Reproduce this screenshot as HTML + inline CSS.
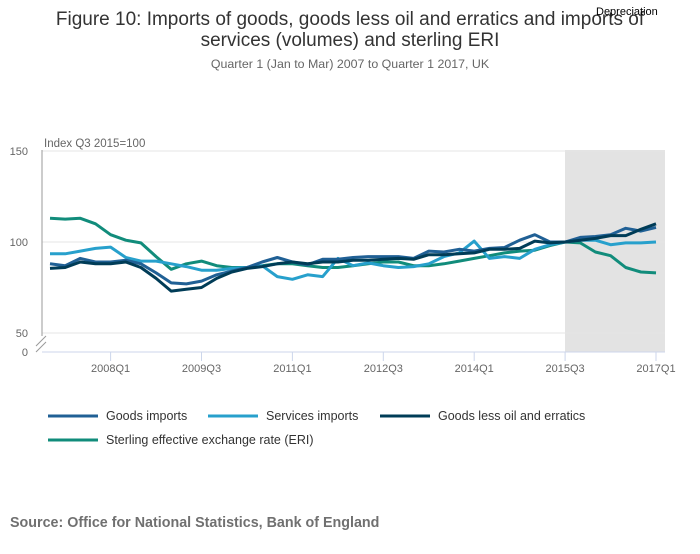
<!DOCTYPE html>
<html><head><meta charset="utf-8"><style>
body{margin:0;background:#fff;font-family:"Liberation Sans",sans-serif;}
svg text{font-family:"Liberation Sans",sans-serif;}
</style></head><body>
<svg width="700" height="549" viewBox="0 0 700 549">
<text x="350" y="25" text-anchor="middle" font-size="19" fill="#333">Figure 10: Imports of goods, goods less oil and erratics and imports of</text>
<text x="350" y="46" text-anchor="middle" font-size="19" fill="#333">services (volumes) and sterling ERI</text>
<text x="350" y="68" text-anchor="middle" font-size="12.4" fill="#666">Quarter 1 (Jan to Mar) 2007 to Quarter 1 2017, UK</text>
<text x="596" y="15" font-size="11" fill="#000">Depreciation</text>
<text x="44" y="147" font-size="11.5" fill="#666">Index Q3 2015=100</text>
<rect x="565" y="150" width="100" height="202" fill="#e3e3e3"/>
<g id="grid"></g>
<line x1="42" y1="150" x2="42" y2="336" stroke="#999"/>
<line x1="36" y1="346" x2="46" y2="336" stroke="#999"/>
<line x1="36" y1="352" x2="46" y2="342" stroke="#999"/>
<line x1="42" y1="352" x2="665" y2="352" stroke="#ccd6eb"/>
<text x="28" y="356" text-anchor="end" font-size="11" fill="#666">0</text>
<g id="xticks"></g>
<g id="series"></g>
<g id="legend"></g>
<text x="10" y="527" font-size="14.3" font-weight="bold" fill="#707070">Source: Office for National Statistics, Bank of England</text>
</svg>
<script>
const yTicks=[50,100,150];
const xTickIdx=[4,10,16,22,28,34,40];
const xTickLabels=["2008Q1","2009Q3","2011Q1","2012Q3","2014Q1","2015Q3","2017Q1"];
const goods=[88,87,91,89,89,90,88,83,77.5,77,78.5,82,84,86,89,91.5,89,87.5,90.5,90.5,91.5,92,92,92,91,95,94.5,96,95,96.5,97,101,104,100,100,102.5,103,104,107.5,106,108];
const services=[93.5,93.5,95,96.5,97.2,91.5,89.5,89.5,88,86.5,84.5,84.5,85.5,86,87,81,79.5,82,81,91,87,88.5,87,86,86.5,88,92,94,100.5,91,92,91,96,98.5,100,101,101,98.5,99.5,99.5,100];
const goodsLessOil=[85.5,86,89,88,88,89,86,80,73,74,75,80,83.5,85.5,86.5,88,89,88,89,89,90,90,90.5,91,90.5,93,93,93.5,94,96,96,96.5,100.5,99.5,100,101,102,103.5,103.5,107,110];
const eri=[113,112.6,113,110,104,101,99.5,92,85,88,89.5,87,86,86,87,88,88,87,86,86,87,88,89,89,87,87,88,89.5,91,92.5,94,95,95.5,98,100,99.5,94.5,92.5,86,83.5,83];
const seriesNames=["Goods imports","Services imports","Goods less oil and erratics","Sterling effective exchange rate (ERI)"];
const seriesColors=["#206095","#27a0cc","#003c57","#118c7b"];
const seriesData=[goods,services,goodsLessOil,eri];
const NS="http://www.w3.org/2000/svg";
function xs(i){return 50+i*15.15;}
function ys(v){return 242-(v-100)*1.82;}
function mk(t,a,p){const e=document.createElementNS(NS,t);for(const k in a)e.setAttribute(k,a[k]);p.appendChild(e);return e;}
const grid=document.getElementById('grid');
yTicks.forEach(v=>{
 const l=mk('line',{x1:42,x2:665,y1:ys(v),y2:ys(v),stroke:'#e6e6e6'},grid);
 
 
 const t=mk('text',{x:28,y:ys(v)+4,'text-anchor':'end','font-size':11,fill:'#666'},grid);
 t.textContent=v;
 
 
});
const xt=document.getElementById('xticks');
xTickIdx.forEach((idx,k)=>{
 const l=mk('line',{x1:xs(idx),x2:xs(idx),y1:352,y2:361,stroke:'#ccd6eb'},xt);
 
 
 const t=mk('text',{x:xs(idx),y:372,'text-anchor':'middle','font-size':11,fill:'#666'},xt);
 t.textContent=xTickLabels[k];
 
 
});
const sg=document.getElementById('series');
[3,1,0,2].forEach(s=>{
 const d=seriesData[s].map((v,i)=>(i?'L':'M')+xs(i).toFixed(1)+' '+ys(v).toFixed(1)).join(' ');
 const p=mk('path',{d:d,fill:'none',stroke:seriesColors[s],'stroke-width':3,'stroke-linejoin':'round'},sg);
 
 
});
const lg=document.getElementById('legend');
const pos=[[48,416],[208,416],[380,416],[48,440]];
seriesNames.forEach((n,s)=>{
 const g=mk('g',{},lg);
 
 
 mk('line',{x1:pos[s][0],x2:pos[s][0]+50,y1:pos[s][1],y2:pos[s][1],stroke:seriesColors[s],'stroke-width':3},g);
 const t=mk('text',{x:pos[s][0]+58,y:pos[s][1]+4,'font-size':12.5,fill:'#333'},g);
 t.textContent=n;
});
</script>
</body></html>
